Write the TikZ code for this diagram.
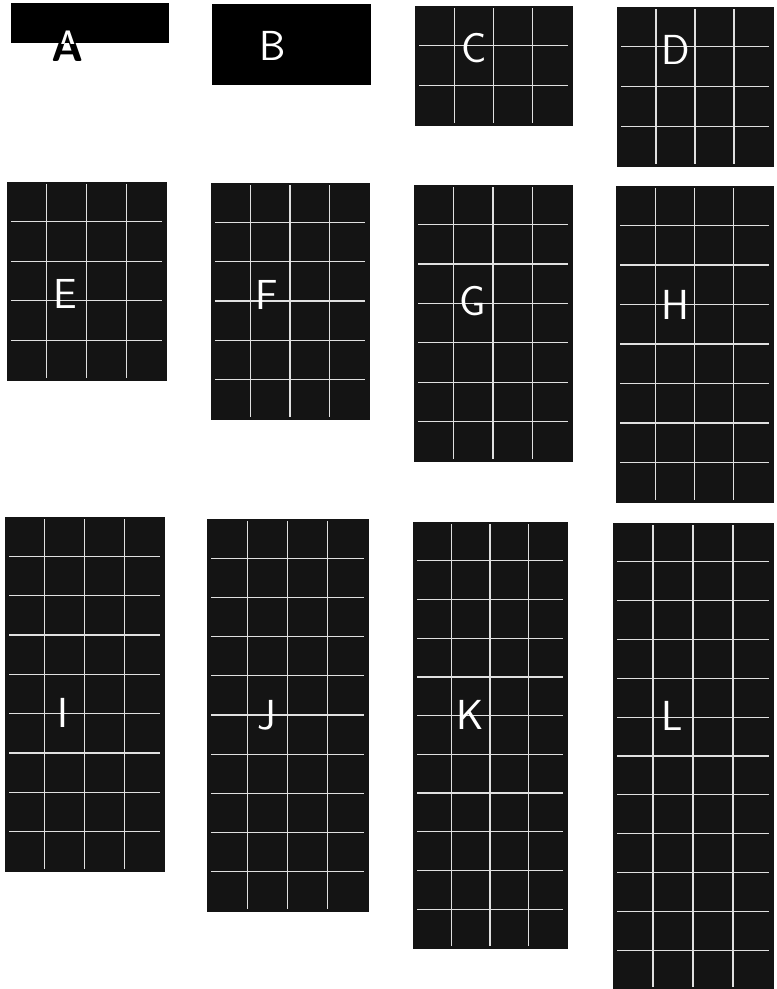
\documentclass[tikz,border=0pt]{standalone}
\usepackage{fontspec}
\begin{document}
\begin{tikzpicture}[
    x=1pt, y=-1pt,
    panel/.style={fill=black!92, draw=black!92, line width=0.6pt},
    gridline/.style={draw=white!88!black, line width=1.3pt},
    letter/.style={text=white, font=\sffamily\fontsize{42}{42}\selectfont, inner sep=0pt}
]
\useasboundingbox (0,0) rectangle (777,989);

% Block A: letter half inside the strip
\fill[black] (11,3) rectangle (169,43);
\begin{scope}
  \clip (0,43) rectangle (200,90);
  \node[letter, text=black, font=\sffamily\bfseries\fontsize{44}{44}\selectfont] (lblA) at (68,46) {A};
\end{scope}
\begin{scope}
  \clip (11,3) rectangle (169,43);
  \node[letter, font=\sffamily\fontsize{44}{44}\selectfont] (lblAtop) at (68,46) {A};
\end{scope}

% Block B: no ruling
\fill[black] (212,4) rectangle (371,85);
\node[letter] (lblB) at (273,46) {B};

% Ruled blocks C to L, one more row each
\foreach \name/\l/\t/\r/\b/\rows/\lx/\ly in {
    C/415/6/572/125/3/474/48,
    D/617/7/773/166/4/676/50,
    E/7/182/166/380/5/65/294,
    F/211/183/369/419/6/267/295,
    G/414/185/572/461/7/473/301,
    H/616/186/773/502/8/675/305,
    I/5/517/164/871/9/63/713,
    J/207/519/368/911/10/267/715,
    K/413/522/567/948/11/470/715,
    L/613/523/773/989/12/672/716}
{
    \fill[panel] (\l,\t) rectangle (\r,\b);
    \foreach \k in {1,2,3}
        \draw[gridline] ({\l+\k*(\r-\l)/4},\t+2) -- ({\l+\k*(\r-\l)/4},\b-2);
    \pgfmathtruncatemacro\lastrow{\rows-1}
    \foreach \k in {1,...,\lastrow}
        \draw[gridline] (\l+4,{\t+\k*(\b-\t)/\rows}) -- (\r-4,{\t+\k*(\b-\t)/\rows});
    \node[letter] (lbl\name) at (\lx,\ly) {\name};
}
\end{tikzpicture}
\end{document}
